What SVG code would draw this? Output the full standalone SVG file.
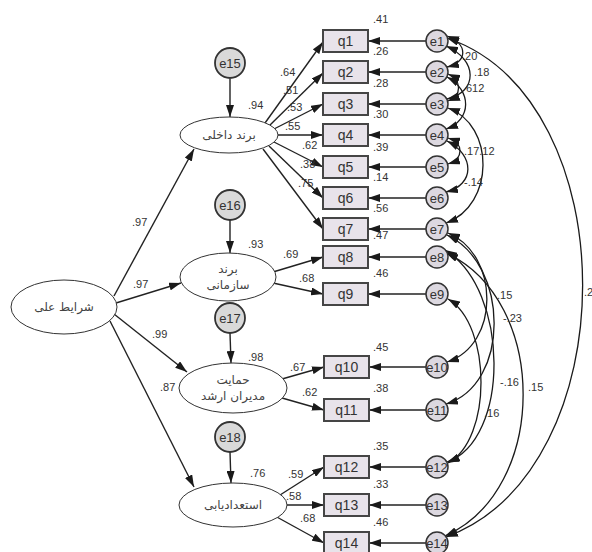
<svg xmlns="http://www.w3.org/2000/svg" width="592" height="552" viewBox="0 0 592 552">
<defs>
<marker id="ah" markerUnits="userSpaceOnUse" viewBox="0 0 12 8" refX="12" refY="4" markerWidth="12" markerHeight="8" orient="auto-start-reverse">
<path d="M0,0 L12,4 L0,8 z" fill="#1a1a1a"/>
</marker>
<style>
.cn{fill:none;stroke:#222;stroke-width:1.4;marker-end:url(#ah)}
.arc{fill:none;stroke:#1a1a1a;stroke-width:1.3;marker-start:url(#ah);marker-end:url(#ah)}
.box{fill:#e8e3ea;stroke:#454545;stroke-width:2}
.err{fill:#dcd8e0;stroke:#333;stroke-width:1.5}
.dis{fill:#d9d9d9;stroke:#333;stroke-width:1.8}
.lat{fill:#fff;stroke:#333;stroke-width:1}
.bt{font-family:"Liberation Sans",Arial,sans-serif;font-size:14px;fill:#333;text-anchor:middle}
.et{font-family:"Liberation Sans",Arial,sans-serif;font-size:13px;fill:#333;text-anchor:middle}
.nt{font-family:"Liberation Sans",Arial,sans-serif;font-size:11px;fill:#333}
.ft{font-family:"DejaVu Sans","Noto Sans",sans-serif;font-size:12px;fill:#444;text-anchor:middle}
</style>
</defs>
<rect width="592" height="552" fill="#fff"/>

<g id="connectors">
<line class="cn" x1="114" y1="296" x2="194" y2="149"/>
<line class="cn" x1="116" y1="303" x2="181" y2="283"/>
<line class="cn" x1="114" y1="314" x2="187" y2="372"/>
<line class="cn" x1="110" y1="321" x2="194" y2="487"/>
<line class="cn" x1="230" y1="79" x2="230" y2="117"/>
<line class="cn" x1="230" y1="220" x2="230" y2="253"/>
<line class="cn" x1="230" y1="333" x2="231" y2="363"/>
<line class="cn" x1="230" y1="452" x2="231" y2="483"/>
<line class="cn" x1="265" y1="123" x2="323" y2="42"/>
<line class="cn" x1="269" y1="126" x2="323" y2="73"/>
<line class="cn" x1="274" y1="129" x2="323" y2="104"/>
<line class="cn" x1="278" y1="135" x2="323" y2="135"/>
<line class="cn" x1="274" y1="142" x2="323" y2="167"/>
<line class="cn" x1="269" y1="146" x2="323" y2="198"/>
<line class="cn" x1="263" y1="149" x2="323" y2="229"/>
<line class="cn" x1="273" y1="272" x2="323" y2="257"/>
<line class="cn" x1="273" y1="283" x2="323" y2="294"/>
<line class="cn" x1="282" y1="379" x2="324" y2="367"/>
<line class="cn" x1="282" y1="398" x2="324" y2="410"/>
<line class="cn" x1="280" y1="495" x2="324" y2="467"/>
<line class="cn" x1="287" y1="505" x2="324" y2="505"/>
<line class="cn" x1="275" y1="516" x2="324" y2="543"/>
<line class="cn" x1="426" y1="41" x2="368" y2="41"/>
<line class="cn" x1="426" y1="72" x2="368" y2="72"/>
<line class="cn" x1="426" y1="104" x2="368" y2="104"/>
<line class="cn" x1="426" y1="135" x2="368" y2="135"/>
<line class="cn" x1="426" y1="167" x2="368" y2="167"/>
<line class="cn" x1="426" y1="198" x2="368" y2="198"/>
<line class="cn" x1="426" y1="229" x2="368" y2="229"/>
<line class="cn" x1="426" y1="257" x2="368" y2="257"/>
<line class="cn" x1="426" y1="294" x2="368" y2="294"/>
<line class="cn" x1="426" y1="367" x2="369" y2="367"/>
<line class="cn" x1="426" y1="410" x2="369" y2="410"/>
<line class="cn" x1="426" y1="467" x2="369" y2="467"/>
<line class="cn" x1="426" y1="505" x2="369" y2="505"/>
<line class="cn" x1="426" y1="543" x2="369" y2="543"/>
<path class="arc" d="M447,36 C468,44 468,62 447,67"/>
<path class="arc" d="M446,46 C478,60 478,92 447,99"/>
<path class="arc" d="M448,74 C462,80 462,96 448,101"/>
<path class="arc" d="M447,77 C472,90 472,120 446,129"/>
<path class="arc" d="M448,108 C495,125 495,205 446,223"/>
<path class="arc" d="M448,138 C464,143 464,159 448,164"/>
<path class="arc" d="M447,141 C475,155 475,185 446,192"/>
<path class="arc" d="M448,233 C500,255 500,345 447,362"/>
<path class="arc" d="M447,235 C510,265 510,385 446,404"/>
<path class="arc" d="M445,250 C510,290 510,440 447,462"/>
<path class="arc" d="M446,253 C549,300 549,490 445,536"/>
<path class="arc" d="M448,299 C492,325 492,440 448,463"/>
<path class="arc" d="M447,38 C628,100 628,470 446,537"/>
</g>

<g id="n_sharayet"><ellipse class="lat" cx="64" cy="307" rx="53" ry="27"/><text class="ft" x="64" y="311">شرایط علی</text></g>
<g id="n_dakheli"><ellipse class="lat" cx="229" cy="135" rx="49" ry="18"/><text class="ft" x="229" y="139">برند داخلی</text></g>
<g id="n_sazmani"><ellipse class="lat" cx="228" cy="277" rx="48" ry="24"/><text class="ft" x="228" y="273">برند</text><text class="ft" x="228" y="289">سازمانی</text></g>
<g id="n_hemayat"><ellipse class="lat" cx="233" cy="388" rx="54" ry="25"/><text class="ft" x="233" y="384">حمایت</text><text class="ft" x="233" y="400">مدیران ارشد</text></g>
<g id="n_esteedad"><ellipse class="lat" cx="233" cy="505" rx="54" ry="22"/><text class="ft" x="233" y="509">استعدادیابی</text></g>

<g id="n_e15"><circle class="dis" cx="230" cy="63" r="15"/><text class="et" x="230" y="68">e15</text></g>
<g id="n_e16"><circle class="dis" cx="230" cy="205" r="15"/><text class="et" x="230" y="210">e16</text></g>
<g id="n_e17"><circle class="dis" cx="230" cy="318" r="15"/><text class="et" x="230" y="323">e17</text></g>
<g id="n_e18"><circle class="dis" cx="230" cy="437" r="15"/><text class="et" x="230" y="442">e18</text></g>

<g id="n_q1"><rect class="box" x="323" y="30" width="45" height="22"/><text class="bt" x="345.5" y="46">q1</text></g>
<g id="n_q2"><rect class="box" x="323" y="61" width="45" height="22"/><text class="bt" x="345.5" y="77">q2</text></g>
<g id="n_q3"><rect class="box" x="323" y="93" width="45" height="22"/><text class="bt" x="345.5" y="109">q3</text></g>
<g id="n_q4"><rect class="box" x="323" y="124" width="45" height="22"/><text class="bt" x="345.5" y="140">q4</text></g>
<g id="n_q5"><rect class="box" x="323" y="156" width="45" height="22"/><text class="bt" x="345.5" y="172">q5</text></g>
<g id="n_q6"><rect class="box" x="323" y="187" width="45" height="22"/><text class="bt" x="345.5" y="203">q6</text></g>
<g id="n_q7"><rect class="box" x="323" y="218" width="45" height="22"/><text class="bt" x="345.5" y="234">q7</text></g>
<g id="n_q8"><rect class="box" x="323" y="246" width="45" height="22"/><text class="bt" x="345.5" y="262">q8</text></g>
<g id="n_q9"><rect class="box" x="323" y="283" width="45" height="22"/><text class="bt" x="345.5" y="299">q9</text></g>
<g id="n_q10"><rect class="box" x="324" y="356" width="45" height="22"/><text class="bt" x="346.5" y="372">q10</text></g>
<g id="n_q11"><rect class="box" x="324" y="399" width="45" height="22"/><text class="bt" x="346.5" y="415">q11</text></g>
<g id="n_q12"><rect class="box" x="324" y="456" width="45" height="22"/><text class="bt" x="346.5" y="472">q12</text></g>
<g id="n_q13"><rect class="box" x="324" y="494" width="45" height="22"/><text class="bt" x="346.5" y="510">q13</text></g>
<g id="n_q14"><rect class="box" x="324" y="532" width="45" height="22"/><text class="bt" x="346.5" y="548">q14</text></g>

<g id="n_e1"><circle class="err" cx="437" cy="41" r="11"/><text class="et" x="437" y="46">e1</text></g>
<g id="n_e2"><circle class="err" cx="437" cy="72" r="11"/><text class="et" x="437" y="77">e2</text></g>
<g id="n_e3"><circle class="err" cx="437" cy="104" r="11"/><text class="et" x="437" y="109">e3</text></g>
<g id="n_e4"><circle class="err" cx="437" cy="135" r="11"/><text class="et" x="437" y="140">e4</text></g>
<g id="n_e5"><circle class="err" cx="437" cy="167" r="11"/><text class="et" x="437" y="172">e5</text></g>
<g id="n_e6"><circle class="err" cx="437" cy="198" r="11"/><text class="et" x="437" y="203">e6</text></g>
<g id="n_e7"><circle class="err" cx="437" cy="229" r="11"/><text class="et" x="437" y="234">e7</text></g>
<g id="n_e8"><circle class="err" cx="437" cy="257" r="11"/><text class="et" x="437" y="262">e8</text></g>
<g id="n_e9"><circle class="err" cx="437" cy="294" r="11"/><text class="et" x="437" y="299">e9</text></g>
<g id="n_e10"><circle class="err" cx="437" cy="367" r="11"/><text class="et" x="437" y="372">e10</text></g>
<g id="n_e11"><circle class="err" cx="437" cy="410" r="11"/><text class="et" x="437" y="415">e11</text></g>
<g id="n_e12"><circle class="err" cx="437" cy="467" r="11"/><text class="et" x="437" y="472">e12</text></g>
<g id="n_e13"><circle class="err" cx="437" cy="505" r="11"/><text class="et" x="437" y="510">e13</text></g>
<g id="n_e14"><circle class="err" cx="437" cy="543" r="11"/><text class="et" x="437" y="548">e14</text></g>

<g id="labels" class="nt">
<text x="132" y="226">.97</text>
<text x="133" y="288">.97</text>
<text x="152" y="338">.99</text>
<text x="160" y="391">.87</text>
<text x="248" y="109">.94</text>
<text x="248" y="248">.93</text>
<text x="248" y="361">.98</text>
<text x="250" y="477">.76</text>
<text x="280" y="76">.64</text>
<text x="283" y="94">.51</text>
<text x="287" y="111">.53</text>
<text x="285" y="130">.55</text>
<text x="302" y="149">.62</text>
<text x="300" y="168">.38</text>
<text x="298" y="187">.75</text>
<text x="283" y="258">.69</text>
<text x="299" y="282">.68</text>
<text x="290" y="371">.67</text>
<text x="302" y="396">.62</text>
<text x="288" y="478">.59</text>
<text x="286" y="500">.58</text>
<text x="300" y="522">.68</text>
<text x="373" y="23">.41</text>
<text x="373" y="55">.26</text>
<text x="373" y="87">.28</text>
<text x="373" y="118">.30</text>
<text x="373" y="151">.39</text>
<text x="373" y="181">.14</text>
<text x="373" y="212">.56</text>
<text x="373" y="239">.47</text>
<text x="373" y="277">.46</text>
<text x="373" y="351">.45</text>
<text x="373" y="392">.38</text>
<text x="373" y="450">.35</text>
<text x="373" y="488">.33</text>
<text x="373" y="526">.46</text>
<text x="462" y="60">.20</text>
<text x="474" y="76">.18</text>
<text x="466" y="92">612</text>
<text x="464" y="155">.17.12</text>
<text x="464" y="186">-.14</text>
<text x="497" y="299">.15</text>
<text x="503" y="322">-.23</text>
<text x="500" y="386">-.16</text>
<text x="528" y="391">.15</text>
<text x="484" y="417">.16</text>
<text x="584" y="296">.2</text>
</g>
</svg>
